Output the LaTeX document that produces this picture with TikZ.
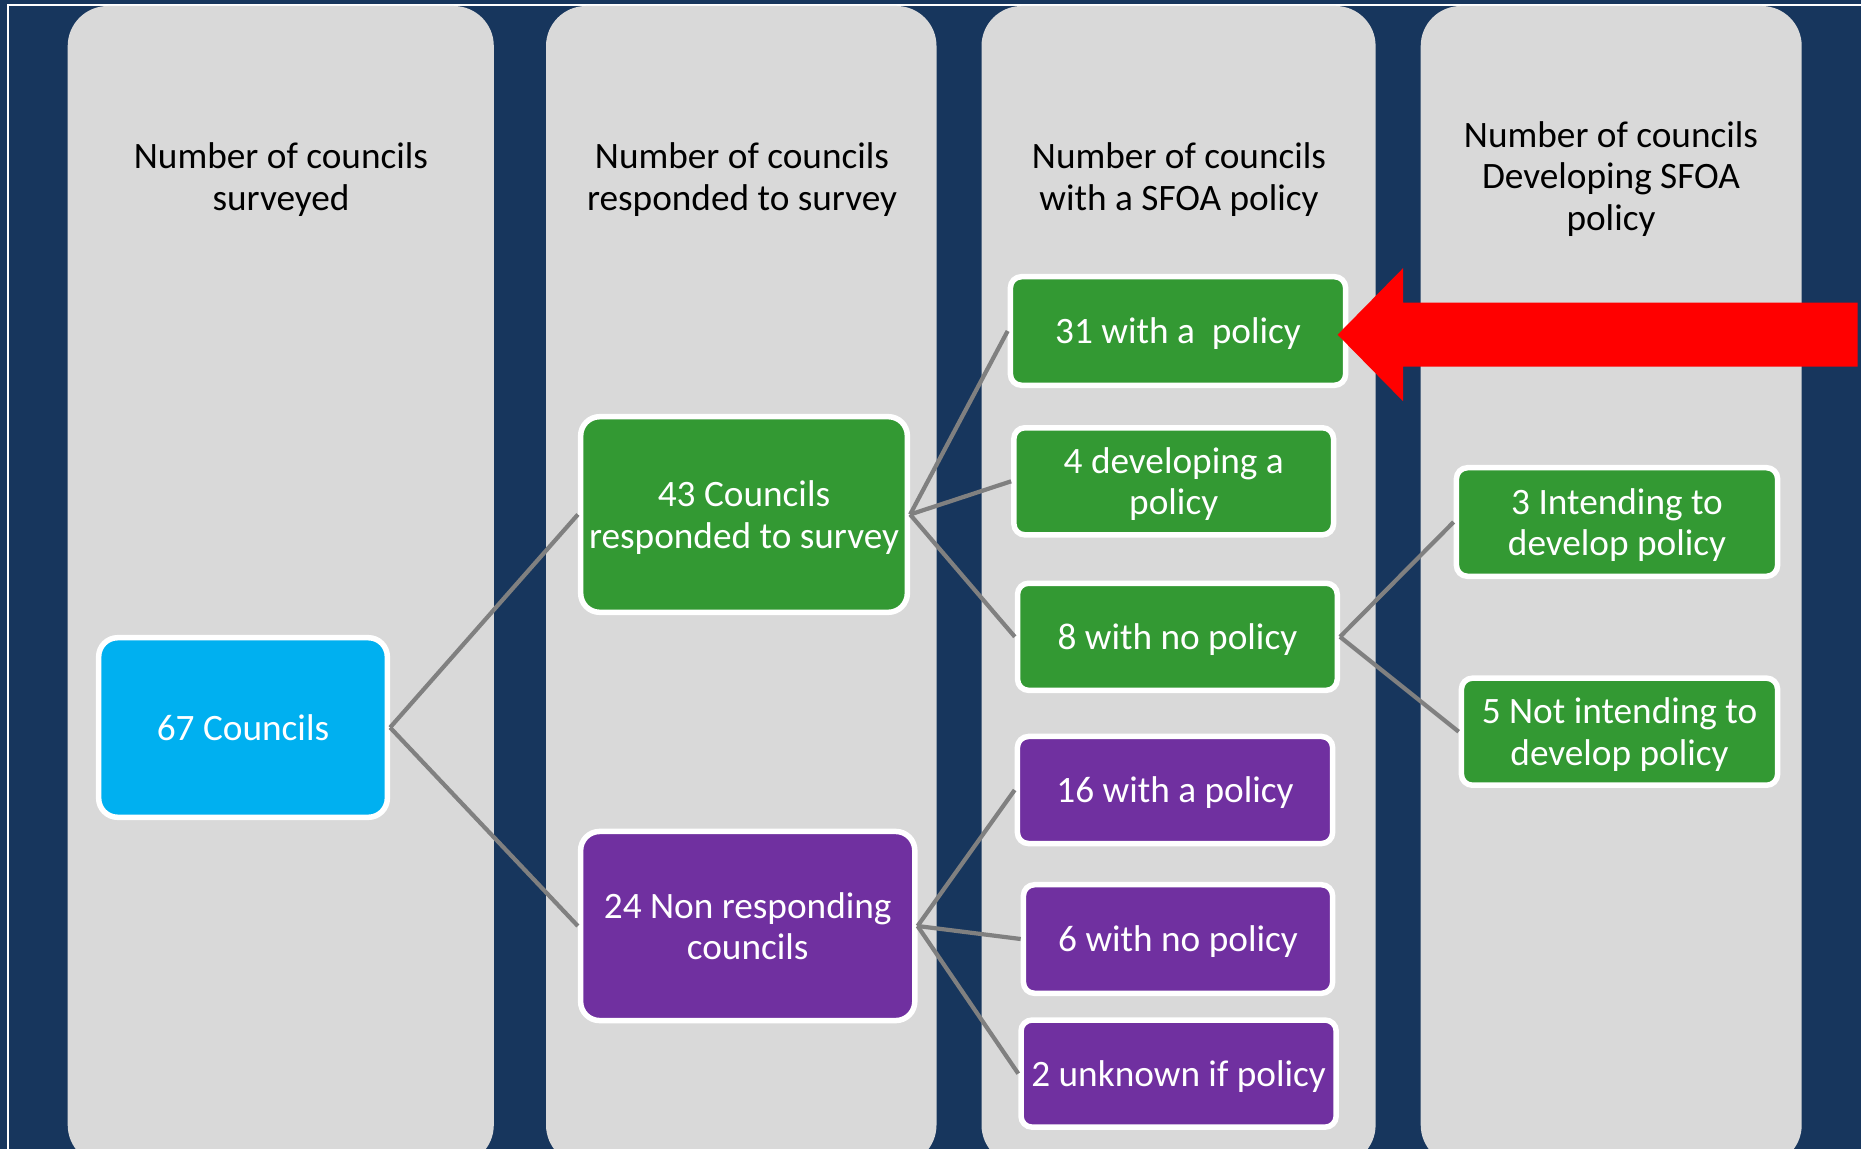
\documentclass[tikz,border=0pt]{standalone}
\usepackage{fontspec}
\setmainfont{Carlito}
\usetikzlibrary{calc}

\definecolor{navy}{RGB}{23,54,93}
\definecolor{colgray}{RGB}{217,217,217}
\definecolor{boxgreen}{RGB}{51,153,51}
\definecolor{boxpurple}{RGB}{112,48,160}
\definecolor{boxcyan}{RGB}{0,176,240}
\definecolor{linkgray}{RGB}{128,128,128}
\definecolor{arrowred}{RGB}{255,0,0}

\begin{document}
\begin{tikzpicture}[x=0.01cm, y=-0.01cm,
    column/.style={fill=colgray, rounded corners=0.4cm},
    head/.style={align=center, text=black, font=\fontsize{10.6}{11.8}\selectfont},
    box/.style={draw=white, line width=0.55mm, text=white, align=center, inner sep=0.5mm,
      text depth=0pt, font=\fontsize{10.6}{11.8}\selectfont},
    bigbox/.style={box, rounded corners=0.19cm},
    smallbox/.style={box, rounded corners=0.11cm},
    link/.style={draw=linkgray, line width=0.42mm}]

    \useasboundingbox (0,0) rectangle (1861,1149);
    \clip (0,0) rectangle (1861,1149);
    \fill[navy] (0,0) rectangle (1861,1149);
    \draw[white, line width=0.15mm] (8,5) rectangle (1880,1180);

    % columns
    \fill[column] (67.7,6) rectangle (493.8,1165);
    \fill[column] (546,6) rectangle (936.5,1165);
    \fill[column] (981.5,6) rectangle (1375.6,1165);
    \fill[column] (1420.7,6) rectangle (1801.7,1165);

    \node[head] (h1) at (281,179.5) {Number of councils\\surveyed};
    \node[head] (h2) at (742,179.5) {Number of councils\\responded to survey};
    \node[head] (h3) at (1179,179.5) {Number of councils\\with a SFOA policy};
    \node[head] (h4) at (1611,179) {Number of councils\\Developing SFOA\\policy};

    % tree
    \node[bigbox, fill=boxcyan, minimum width=2.885cm, minimum height=1.795cm] (n67) at (243,727.5) {67 Councils};
    \node[bigbox, fill=boxgreen, minimum width=3.265cm, minimum height=1.955cm] (n43) at (744,514.5) {43 Councils\\responded to survey};
    \node[bigbox, fill=boxpurple, minimum width=3.34cm, minimum height=1.89cm] (n24) at (747.7,926) {24 Non responding\\councils};

    \node[smallbox, fill=boxgreen, minimum width=3.35cm, minimum height=1.085cm] (p31) at (1178,331) {31 with a~~policy};
    \node[smallbox, fill=boxgreen, minimum width=3.195cm, minimum height=1.07cm] (p4) at (1173.7,481.3) {4 developing a\\policy};
    \node[smallbox, fill=boxgreen, minimum width=3.195cm, minimum height=1.07cm] (p8) at (1177.4,636.8) {8 with no policy};
    \node[smallbox, fill=boxpurple, minimum width=3.15cm, minimum height=1.07cm] (p16) at (1175,790) {16 with a policy};
    \node[smallbox, fill=boxpurple, minimum width=3.09cm, minimum height=1.085cm] (p6) at (1178,939) {6 with no policy};
    \node[smallbox, fill=boxpurple, minimum width=3.15cm, minimum height=1.07cm] (p2) at (1178.6,1073.6) {2 unknown if policy};

    \node[smallbox, fill=boxgreen, minimum width=3.21cm, minimum height=1.085cm] (d3) at (1617,522) {3 Intending to\\develop policy};
    \node[smallbox, fill=boxgreen, minimum width=3.16cm, minimum height=1.07cm] (d5) at (1619.5,731.7) {5 Not intending to\\develop policy};

    \draw[link] (n67.east) -- (n43.west);
    \draw[link] (n67.east) -- (n24.west);
    \draw[link] (n43.east) -- (p31.west);
    \draw[link] (n43.east) -- (p4.west);
    \draw[link] (n43.east) -- (p8.west);
    \draw[link] (n24.east) -- (p16.west);
    \draw[link] (n24.east) -- (p6.west);
    \draw[link] (n24.east) -- (p2.west);
    \draw[link] (p8.east) -- (d3.west);
    \draw[link] (p8.east) -- (d5.west);

    % red pointer
    \fill[arrowred] (1337.6,334.7) -- (1403,268.2) -- (1403,302.7) -- (1857.5,302.7)
      -- (1857.5,366.7) -- (1403,366.7) -- (1403,401.2) -- cycle;
\end{tikzpicture}
\end{document}
